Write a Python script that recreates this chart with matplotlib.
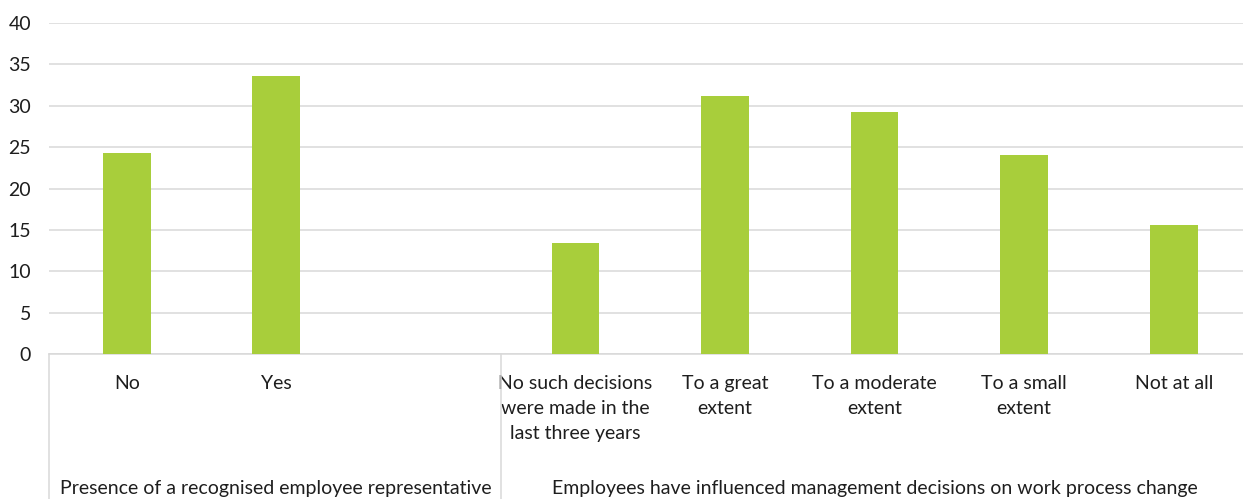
import numpy as np
import matplotlib.pyplot as plt
import matplotlib.transforms as mtransforms

plt.rcParams['font.family'] = ['Lato', 'DejaVu Sans']

# categories (slot 2 is the empty slot that ends the first group)
labels = ["No", "Yes", "",
          "No such decisions\nwere made in the\nlast three years",
          "To a great\nextent", "To a moderate\nextent",
          "To a small\nextent", "Not at all"]
values = [24.3, 33.6, np.nan, 13.4, 31.2, 29.3, 24.1, 15.6]

groups = ["Presence of a recognised employee representative",
          "Employees have influenced management decisions on work process change"]
group_span = [(-0.5, 2.5), (2.5, 7.5)]

bar_color = "#a8ce3b"
text_color = "#1e1e1e"
grid_color = "#d9d9d9"

fig = plt.figure(figsize=(12.43, 4.99), dpi=100)
ax = fig.add_axes([0.0394, 0.29, 0.965, 0.664])

x = np.arange(len(labels))
ax.bar(x, values, width=0.32, color=bar_color, zorder=3)

ax.set_xlim(-0.52, 7.5)
ax.set_ylim(0, 40)
ax.set_yticks(range(0, 41, 5))
ax.yaxis.grid(True, color=grid_color, linewidth=1.1, zorder=0)
ax.set_axisbelow(True)
for side in ["top", "right", "left"]:
    ax.spines[side].set_visible(False)
ax.spines["bottom"].set_color(grid_color)
ax.spines["bottom"].set_linewidth(1.1)

ax.tick_params(axis='y', length=0, pad=13, labelsize=14, labelcolor=text_color)
ax.set_xticks(x)
ax.set_xticklabels(labels, fontsize=14, color=text_color, linespacing=1.55)
ax.tick_params(axis='x', length=0, pad=15)

trans = mtransforms.blended_transform_factory(ax.transData, ax.transAxes)
# group separators under the axis
for x0 in [-0.52, 2.5]:
    ax.plot([x0, x0], [0, -0.45], transform=trans, color=grid_color,
            linewidth=1.1, clip_on=False)

for name, (a, b) in zip(groups, group_span):
    ax.text((a + b) / 2, -0.405, name, transform=trans, ha='center', va='center',
            fontsize=14, color=text_color)

fig.savefig("out.png", dpi=100)
